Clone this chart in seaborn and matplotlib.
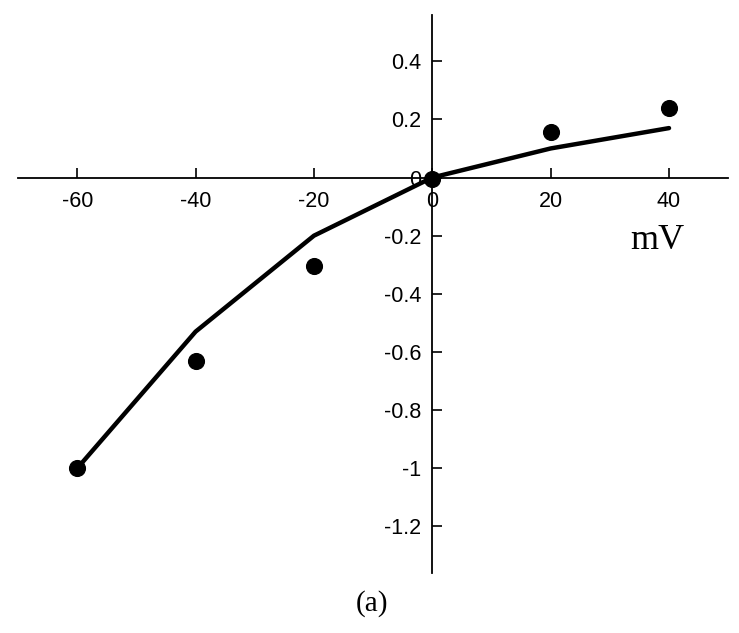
import numpy as np
import pandas as pd
import matplotlib
matplotlib.use("Agg")
import matplotlib.pyplot as plt
import seaborn as sns

# measured points (dots) and model curve (line)
volt = [-60, -40, -20, 0, 20, 40]
measured = [-1.0, -0.63, -0.305, -0.005, 0.155, 0.24]
model = [-1.0, -0.53, -0.2, 0.0, 0.10, 0.17]

x_ticks = [-60, -40, -20, 0, 20, 40]
y_ticks = [-1.2, -1.0, -0.8, -0.6, -0.4, -0.2, 0.0, 0.2, 0.4]
y_labels = ["-1.2", "-1", "-0.8", "-0.6", "-0.4", "-0.2", "0", "0.2", "0.4"]

df = pd.DataFrame({"mV": volt, "measured": measured, "model": model})

sns.set_style("white")
plt.rcParams['font.family'] = ['Liberation Sans', 'DejaVu Sans']
plt.rcParams['axes.unicode_minus'] = False
plt.rcParams['text.color'] = 'black'

fig = plt.figure(figsize=(7.39, 6.33), dpi=100)
ax = fig.add_axes([0.0244, 0.0948, 0.961, 0.882])

sns.lineplot(x="mV", y="model", data=df, color="black", linewidth=3.2, ax=ax)
sns.scatterplot(x="mV", y="measured", data=df, color="black", s=130,
                edgecolor="black", zorder=3, ax=ax)

ax.set_xlim(-70, 50)
ax.set_ylim(-1.36, 0.56)

# axes crossing at the origin
ax.spines['left'].set_position(('data', 0))
ax.spines['bottom'].set_position(('data', 0))
ax.spines['right'].set_visible(False)
ax.spines['top'].set_visible(False)
for s in ['left', 'bottom']:
    ax.spines[s].set_linewidth(1.3)
    ax.spines[s].set_color("black")

ax.set_xticks(x_ticks)
ax.set_xticklabels([str(t) for t in x_ticks])
ax.set_yticks(y_ticks)
ax.set_yticklabels(y_labels)
ax.tick_params(axis='x', bottom=True, direction='in', length=7, width=1.2,
               pad=10, labelsize=15.5, colors='black')
ax.tick_params(axis='y', left=True, direction='in', length=7, width=1.2,
               pad=8, labelsize=15.5, colors='black')
ax.set_xlabel("")
ax.set_ylabel("")

ax.text(38, -0.215, "mV", family=['Liberation Serif'], fontsize=26,
        ha='center', va='center', color='black')
fig.text(0.503, 0.047, "(a)", family=['Liberation Serif'], fontsize=21,
         ha='center', va='center', color='black')

fig.savefig("out.png", dpi=100)
